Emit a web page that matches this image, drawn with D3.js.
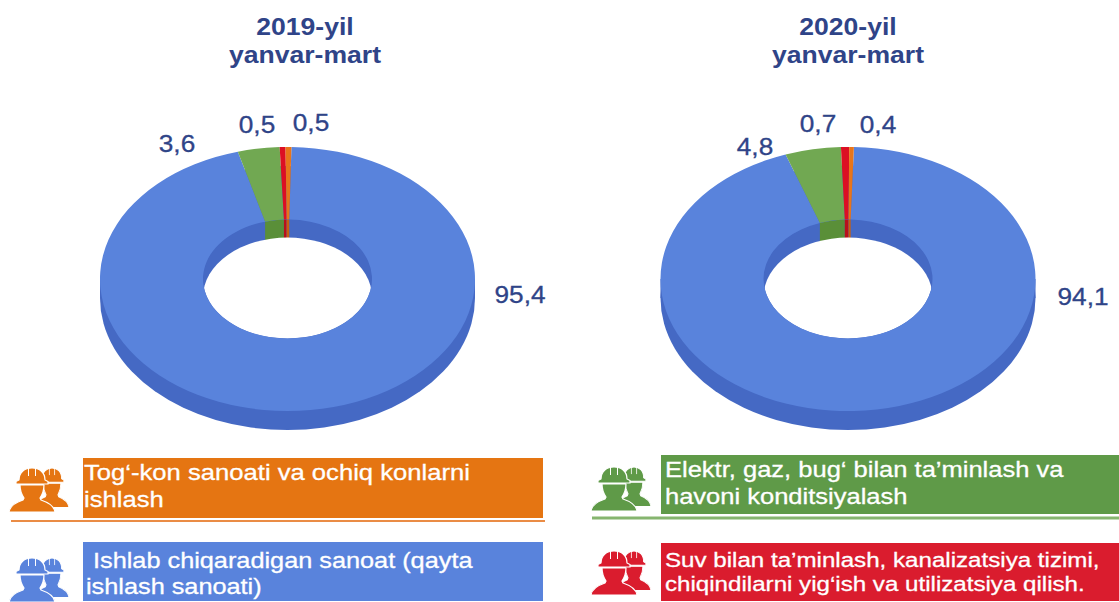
<!DOCTYPE html>
<html>
<head>
<meta charset="utf-8">
<script src="https://cdn.jsdelivr.net/npm/d3@7"></script>
<style>
  html, body { margin: 0; padding: 0; background: #fff; overflow: hidden; }
  text { font-family: "Liberation Sans", Arial, sans-serif; }
</style>
</head>
<body>
<div id="vis"></div>
<script>
// values, same order in both years
const sectors = ["Ishlab chiqaradigan sanoat", "Elektr, gaz, bug", "Suv bilan", "Tog'-kon"];
const values2019 = [95.4, 3.6, 0.5, 0.5];
const values2020 = [94.1, 4.8, 0.7, 0.4];
const labels2019 = ["95,4", "3,6", "0,5", "0,5"];
const labels2020 = ["94,1", "4,8", "0,7", "0,4"];
const titles2019 = ["2019-yil", "yanvar-mart"];
const titles2020 = ["2020-yil", "yanvar-mart"];

const topColors = ["#5983dc", "#71a852", "#dc0f23", "#e8751a"];
const wallColors = ["#4569c4", "#5a8f38", "#b8101c", "#c86010"];

const legendOrange = ["Tog‘-kon sanoati va ochiq konlarni", "ishlash"];
const legendBlue = [" Ishlab chiqaradigan sanoat (qayta", "ishlash sanoati)"];
const legendGreen = ["Elektr, gaz, bug‘ bilan ta’minlash va", "havoni konditsiyalash"];
const legendRed = ["Suv bilan ta’minlash, kanalizatsiya tizimi,", "chiqindilarni yig‘ish va utilizatsiya qilish."];

const width = 1119;
const height = 602;
const titleColor = "#2f4488";

const svg = d3.select("#vis").append("svg")
    .attr("width", width)
    .attr("height", height)
    .attr("viewBox", [0, 0, width, height])
    .style("display", "block");

const defs = svg.append("defs");

// the source picture is wider than its fonts, so text gets stretched on x
function addText(parent, str, x, y, size, stretch, fill, weight, anchor) {
    parent.append("text")
        .attr("transform", `translate(${x},${y}) scale(${stretch},1)`)
        .attr("text-anchor", anchor)
        .attr("font-size", size)
        .attr("font-weight", weight)
        .attr("fill", fill)
        .attr("stroke", weight === "bold" ? "none" : fill)
        .attr("stroke-width", 0.3)
        .style("white-space", "pre")
        .text(str);
}

function drawDonut(id, cx, values, labels, titles, titleX, spots, startDeg) {
    const cy = 279;
    const rx = 187.5;
    const rxInner = 84.5;
    const squash = 0.704;
    const depth = 19;
    const holeDepth = 18;
    const start = startDeg * Math.PI / 180;

    const pie = d3.pie().sort(null).value(d => d)
        .startAngle(start).endAngle(start + 2 * Math.PI);
    const slices = pie(values);
    const arc = d3.arc().innerRadius(rxInner).outerRadius(rx);

    const g = svg.append("g");

    // outer side of the ring
    g.append("ellipse").attr("cx", cx).attr("cy", cy + depth)
        .attr("rx", rx).attr("ry", rx * squash).attr("fill", wallColors[0]);
    g.append("rect").attr("x", cx - rx).attr("y", cy)
        .attr("width", rx * 2).attr("height", depth).attr("fill", wallColors[0]);

    // the hole: inner wall clipped to the top opening
    defs.append("clipPath").attr("id", "hole-" + id)
        .append("ellipse").attr("cx", cx).attr("cy", cy)
        .attr("rx", rxInner).attr("ry", rxInner * squash);

    const hole = g.append("g").attr("clip-path", `url(#hole-${id})`);
    hole.append("rect").attr("x", cx - rxInner).attr("y", cy - rxInner)
        .attr("width", rxInner * 2).attr("height", rxInner * 2).attr("fill", wallColors[0]);

    // wall strip of each slice, from the inner edge straight down
    const wall = d3.area()
        .x(a => cx + rxInner * Math.sin(a))
        .y0(a => cy - rxInner * squash * Math.cos(a))
        .y1(a => cy - rxInner * squash * Math.cos(a) + holeDepth + 2);
    hole.selectAll("path")
        .data(slices.slice(1))
        .join("path")
        .attr("d", d => wall(d3.range(d.startAngle, d.endAngle, 0.005).concat(d.endAngle)))
        .attr("fill", d => wallColors[d.index]);

    hole.append("ellipse").attr("cx", cx).attr("cy", cy + holeDepth)
        .attr("rx", rxInner).attr("ry", rxInner * squash).attr("fill", "#fff");

    // top face
    g.append("g")
        .attr("transform", `translate(${cx},${cy}) scale(1,${squash})`)
        .selectAll("path")
        .data(slices)
        .join("path")
        .attr("d", arc)
        .attr("fill", d => topColors[d.index]);

    titles.forEach((t, i) => addText(g, t, titleX, 35 + i * 28, 23, 1.155, titleColor, "bold", "middle"));

    labels.forEach((t, i) => addText(g, t, spots[i][0], spots[i][1], 23, 1.14, titleColor, "normal", "middle"));
}

// worker pair icon, 56 wide and 46 tall
function drawWorkers(x, y, color) {
    const helmet = "M-13,13 C-13,5 -7,1 0,1 C7,1 13,5 13,13 L16,14.5 L16,17 L-16,17 L-16,14.5 Z";
    const bust = "M-12,18 L12,18 C12,24 10,28 8,31 L9,33 C15,35 22,38 23,45 L-23,45 C-22,38 -15,35 -9,33 L-8,31 C-10,28 -12,24 -12,18 Z";
    const stripes = "M-3.5,1 V9 M3.5,1 V9";
    const icon = svg.append("g").attr("transform", `translate(${x},${y})`);

    [[41, 0.74, 0.9], [21, 1, 1]].forEach(([px, sx, sy]) => {
        const p = icon.append("g").attr("transform", `translate(${px},0) scale(${sx},${sy})`);
        p.append("path").attr("d", bust).attr("fill", color)
            .attr("stroke", "#fff").attr("stroke-width", 1.2);
        p.append("path").attr("d", helmet).attr("fill", color)
            .attr("stroke", "#fff").attr("stroke-width", 1.2);
        p.append("path").attr("d", stripes).attr("fill", "none")
            .attr("stroke", "#fff").attr("stroke-width", 1);
    });
}

function drawLegend(x, y, w, h, color, lines, textX, base, lead, size, stretch, iconX, iconY) {
    svg.append("rect").attr("x", x).attr("y", y).attr("width", w).attr("height", h).attr("fill", color);
    lines.forEach((t, i) => addText(svg, t, textX, base + i * lead, size, stretch, "#fff", "normal", "start"));
    drawWorkers(iconX, iconY, color);
}

drawDonut("a", 287.5, values2019, labels2019, titles2019, 305,
    [[520, 303], [177, 152], [257, 133], [311, 131]], 1.2);
drawDonut("b", 848, values2020, labels2020, titles2020, 848,
    [[1083, 305], [755, 155], [818, 132], [878, 133]], 1.8);

drawLegend(83, 458, 460, 60, "#e57512", legendOrange, 84, 480, 27, 22, 1.165, 11, 467);
drawLegend(83, 542, 460, 59, "#5983dc", legendBlue, 86, 568, 26, 22, 1.15, 11, 557);
drawLegend(661, 455, 458, 59, "#5f9a48", legendGreen, 665, 477, 27, 22, 1.16, 593, 466);
drawLegend(661, 543, 458, 58, "#da1c2e", legendRed, 665, 567, 24, 21, 1.15, 593, 550);

// rules under the top legend row
svg.append("line").attr("x1", 11).attr("x2", 545).attr("y1", 521).attr("y2", 521)
    .attr("stroke", "#ea8c45").attr("stroke-width", 2);
svg.append("line").attr("x1", 592).attr("x2", 1119).attr("y1", 518).attr("y2", 518)
    .attr("stroke", "#86b56f").attr("stroke-width", 3);
</script>
</body>
</html>
